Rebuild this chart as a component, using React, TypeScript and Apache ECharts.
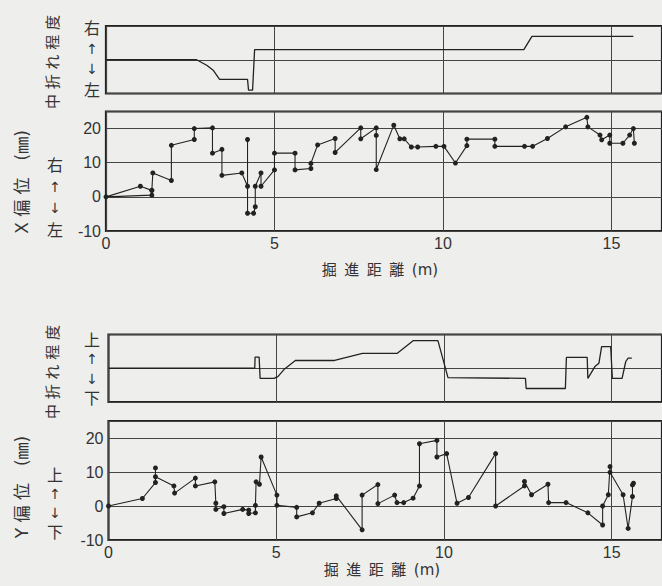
import React, { useEffect, useRef } from "react";
import * as echarts from "echarts";

// Panel 1: X-direction articulation (中折れ程度), -1 = 左 … +1 = 右
const xBendDist = [0, 2.69, 3.0, 3.18, 3.37, 4.2, 4.23, 4.35, 4.41, 12.4, 12.64, 15.65];
const xBendVal = [0, 0, -0.17, -0.31, -0.58, -0.58, -0.9, -0.9, 0.3, 0.3, 0.69, 0.69];

// Panel 2: X偏位 (mm)
const xOffDist = [1.36, 1.02, 0, 1.36, 1.36, 1.39, 1.94, 1.94, 2.62, 2.62, 3.16, 3.16, 3.44, 3.44, 4.03, 4.2, 4.2, 4.2, 4.38, 4.43, 4.43, 4.6, 4.6, 5.0, 5.0, 5.61, 5.61, 6.08, 6.08, 6.28, 6.8, 6.8, 7.56, 7.56, 8.02, 8.02, 8.02, 8.54, 8.72, 8.85, 9.06, 9.25, 9.79, 10.03, 10.37, 10.71, 10.71, 11.54, 11.54, 12.42, 12.66, 13.1, 13.64, 14.27, 14.3, 14.66, 14.71, 14.95, 14.95, 15.34, 15.54, 15.65, 15.68];
const xOffVal = [1.9, 3.1, 0, 0.5, 1.9, 7.0, 4.8, 15.1, 16.8, 20.0, 20.2, 12.8, 13.9, 6.3, 7.0, 3.1, 16.8, -4.8, -4.8, -2.9, 3.1, 7.0, 3.1, 7.9, 12.8, 12.8, 7.9, 8.3, 9.8, 15.2, 17.1, 13.0, 20.2, 17.0, 20.2, 18.0, 8.0, 21.0, 17.0, 17.0, 14.6, 14.6, 14.8, 14.8, 9.9, 15.0, 16.9, 16.9, 14.8, 14.8, 14.8, 17.1, 20.5, 23.3, 20.5, 18.1, 16.7, 18.1, 15.7, 15.7, 18.1, 20.0, 15.7];

// Panel 3: Y-direction articulation (中折れ程度), -1 = 下 … +1 = 上
const yBendDist = [0, 4.36, 4.37, 4.49, 4.52, 4.93, 5.05, 5.25, 5.57, 6.74, 7.57, 8.6, 9.09, 9.82, 10.12, 12.43, 12.45, 13.62, 13.65, 14.27, 14.29, 14.5, 14.62, 14.7, 14.97, 15.02, 15.31, 15.42, 15.49, 15.6];
const yBendVal = [0, 0, 0.33, 0.33, -0.3, -0.3, -0.25, -0.02, 0.23, 0.23, 0.44, 0.44, 0.82, 0.82, -0.28, -0.3, -0.6, -0.6, 0.32, 0.32, -0.3, 0.05, 0.15, 0.64, 0.64, -0.3, -0.3, 0.2, 0.3, 0.3];

// Panel 4: Y偏位 (mm)
const yOffDist = [0, 1.01, 1.4, 1.4, 1.4, 1.95, 1.97, 2.59, 2.59, 3.17, 3.2, 3.2, 3.44, 3.44, 4.0, 4.18, 4.18, 4.38, 4.38, 4.4, 4.5, 4.55, 5.02, 5.02, 5.61, 5.61, 6.08, 6.28, 6.79, 6.79, 7.56, 7.56, 8.03, 8.03, 8.53, 8.6, 8.8, 9.08, 9.27, 9.27, 9.79, 9.79, 10.08, 10.39, 10.73, 11.54, 11.54, 12.4, 12.4, 12.61, 13.1, 13.12, 13.64, 14.29, 14.73, 14.73, 14.9, 14.95, 14.95, 15.34, 15.49, 15.62, 15.62, 15.65];
const yOffVal = [0, 2.2, 6.9, 11.2, 8.6, 5.9, 3.8, 8.2, 5.9, 7.1, 0.8, -1.0, -0.2, -2.2, -1.0, -1.2, -2.2, -2.0, 0.2, 7.1, 6.4, 14.4, 3.2, 0.2, -0.4, -3.2, -2.0, 0.8, 2.2, 3.0, -7.0, 3.2, 6.3, 0.7, 3.2, 1.0, 1.0, 2.3, 5.9, 18.3, 19.3, 14.4, 15.4, 0.8, 2.5, 15.4, 0, 5.9, 7.2, 3.3, 6.4, 1.0, 1.0, -2.0, -5.6, 0, 3.3, 11.6, 9.9, 3.3, -6.6, 2.8, 6.2, 6.7];

const xTicks = [0, 5, 10, 15];
const offTicks = [-10, 0, 10, 20];
const xTitle = "掘\u2002進\u2002距\u2002離\u2002(m)";
const bendTitle = "中 折 れ 程 度";
const xOffTitle = "X 偏 位\u3000(㎜)";
const yOffTitle = "Y 偏 位\u3000(㎜)";

const INK = "#222";
const TXT = "#333";
const CJK = '"DejaVu Sans", "Noto Sans CJK JP", sans-serif';
const NUM = '"Liberation Sans", Arial, sans-serif';

const pairs = (xs: number[], ys: number[]) => xs.map((x, i) => [x, ys[i]]);

function txt(x: number, y: number, text: string, size: number, rotation = 0, family = CJK) {
  return {
    type: "text",
    x,
    y,
    rotation,
    style: { text, fontSize: size, fontFamily: family, fill: TXT, align: "center", verticalAlign: "middle" },
  };
}

function stack(x: number, yTop: number, yBot: number, top: string, bot: string) {
  const d = (yBot - yTop) / 3;
  return [
    txt(x, yTop, top, 16),
    txt(x, yTop + d, "↑", 14),
    txt(x, yTop + 2 * d, "↓", 14),
    txt(x, yBot, bot, 16),
  ];
}

export default function App() {
  const ref = useRef<HTMLDivElement>(null);
  useEffect(() => {
    if (!ref.current) return;
    const chart = echarts.init(ref.current, undefined, { renderer: "svg" });
    const grids = [
      { left: 106, top: 26, width: 563, height: 67.5 },
      { left: 106, top: 111.5, width: 563, height: 119.5 },
      { left: 108.5, top: 334.5, width: 563, height: 67.5 },
      { left: 108.5, top: 421, width: 563, height: 119 },
    ].map((g) => ({ ...g, show: true, borderColor: INK, borderWidth: 2.2, backgroundColor: "transparent" }));

    const xAxes = [0, 1, 2, 3].map((i) => ({
      type: "value",
      gridIndex: i,
      min: 0,
      max: 16.5,
      interval: 5,
      axisLine: { show: false },
      axisTick: { show: false },
      axisLabel: {
        show: i === 1 || i === 3,
        showMaxLabel: false,
        margin: 4,
        fontSize: 16,
        fontFamily: NUM,
        color: TXT,
        formatter: (v: number) => (xTicks.includes(v) ? String(v) : ""),
      },
      splitLine: { show: true, lineStyle: { color: "#444", width: 1 } },
    }));

    const yAxes = [0, 1, 2, 3].map((i) => {
      const off = i === 1 || i === 3;
      return {
        type: "value",
        gridIndex: i,
        min: off ? -10 : -1,
        max: off ? 25 : 1,
        interval: off ? 10 : 1,
        axisLine: { show: false },
        axisTick: { show: false },
        axisLabel: {
          show: off,
          showMaxLabel: false,
          margin: 5,
          fontSize: 16,
          fontFamily: NUM,
          color: TXT,
          formatter: (v: number) => (offTicks.includes(v) ? String(v) : ""),
        },
        splitLine: { show: true, lineStyle: { color: "#444", width: 1 } },
      };
    });

    const bendSeries = (i: number, data: number[][]) => ({
      type: "line",
      xAxisIndex: i,
      yAxisIndex: i,
      data,
      showSymbol: false,
      symbol: "none",
      lineStyle: { color: INK, width: 1.3 },
      silent: true,
    });
    const offSeries = (i: number, data: number[][]) => ({
      type: "line",
      xAxisIndex: i,
      yAxisIndex: i,
      data,
      symbol: "circle",
      symbolSize: 5,
      itemStyle: { color: INK },
      lineStyle: { color: INK, width: 1.1 },
      silent: true,
    });

    chart.setOption({
      animation: false,
      backgroundColor: "#eeeeec",
      grid: grids,
      xAxis: xAxes,
      yAxis: yAxes,
      series: [
        bendSeries(0, pairs(xBendDist, xBendVal)),
        offSeries(1, pairs(xOffDist, xOffVal)),
        bendSeries(2, pairs(yBendDist, yBendVal)),
        offSeries(3, pairs(yOffDist, yOffVal)),
      ],
      graphic: [
        txt(53, 62, bendTitle, 15, Math.PI / 2),
        ...stack(92, 28, 90, "右", "左"),
        txt(22, 182, xOffTitle, 17, Math.PI / 2),
        ...stack(55, 165, 230, "右", "左"),
        txt(380, 270, xTitle, 15),
        txt(53, 372, bendTitle, 15, Math.PI / 2),
        ...stack(92, 340, 398, "上", "下"),
        txt(22, 487, yOffTitle, 17, Math.PI / 2),
        ...stack(55, 475, 532, "上", "下"),
        txt(382, 570, xTitle, 15),
      ],
    });
    return () => chart.dispose();
  }, []);
  return <div ref={ref} style={{ position: "absolute", left: 0, top: 0, width: 662, height: 586 }} />;
}
